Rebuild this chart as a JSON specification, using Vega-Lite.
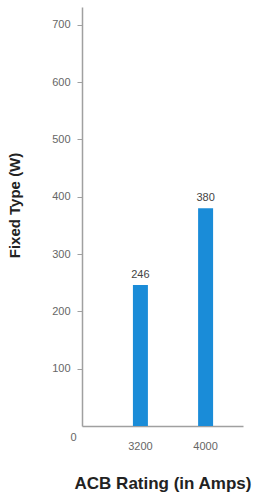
{
  "$schema": "https://vega.github.io/schema/vega-lite/v6.json",
  "autosize": "none",
  "width": 161,
  "height": 419,
  "padding": {"left": 82, "top": 7, "right": 17, "bottom": 69},
  "background": "white",
  "config": {
    "view": {"stroke": null},
    "font": "Liberation Sans",
    "axis": {
      "grid": false,
      "domainColor": "#a0a0a0",
      "domainWidth": 1.5,
      "tickColor": "#a0a0a0",
      "labelColor": "#666666",
      "labelFont": "Liberation Sans",
      "labelFontSize": 11,
      "titleFont": "Liberation Sans",
      "titleFontWeight": "bold",
      "titleColor": "#222222"
    }
  },
  "data": {
    "values": [
      {"rating": "3200", "watts": 246},
      {"rating": "4000", "watts": 380}
    ]
  },
  "encoding": {
    "x": {
      "field": "rating",
      "type": "ordinal",
      "sort": null,
      "scale": {"paddingInner": 0.77, "paddingOuter": 0.62, "align": 0.63},
      "axis": {
        "title": "ACB Rating (in Amps)",
        "titleFontSize": 17,
        "titleY": 57,
        "titleBaseline": "middle",
        "labelAngle": 0,
        "ticks": false,
        "domain": true,
        "domainColor": "#a0a0a0",
        "domainWidth": 1.5,
        "labelPadding": 14
      }
    },
    "y": {
      "field": "watts",
      "type": "quantitative",
      "scale": {"domain": [0, 731], "nice": false},
      "axis": {
        "title": "Fixed Type (W)",
        "titleFontSize": 15,
        "titleAngle": -90,
        "titleX": -68,
        "titleY": 198,
        "titleBaseline": "middle",
        "values": [0, 100, 200, 300, 400, 500, 600, 700],
        "tickSize": 5,
        "tickOpacity": {"condition": {"test": "datum.value == 0", "value": 0}, "value": 1},
        "labelPadding": {"condition": {"test": "datum.value == 0", "value": 1}, "value": 7},
        "labelOffset": {"condition": {"test": "datum.value == 0", "value": 11}, "value": 0}
      }
    }
  },
  "layer": [
    {"mark": {"type": "bar", "color": "#1a8cd8"}},
    {
      "mark": {"type": "text", "dy": -5, "baseline": "bottom", "fontSize": 11, "color": "#444444", "font": "Liberation Sans"},
      "encoding": {"text": {"field": "watts", "type": "quantitative"}}
    }
  ]
}
